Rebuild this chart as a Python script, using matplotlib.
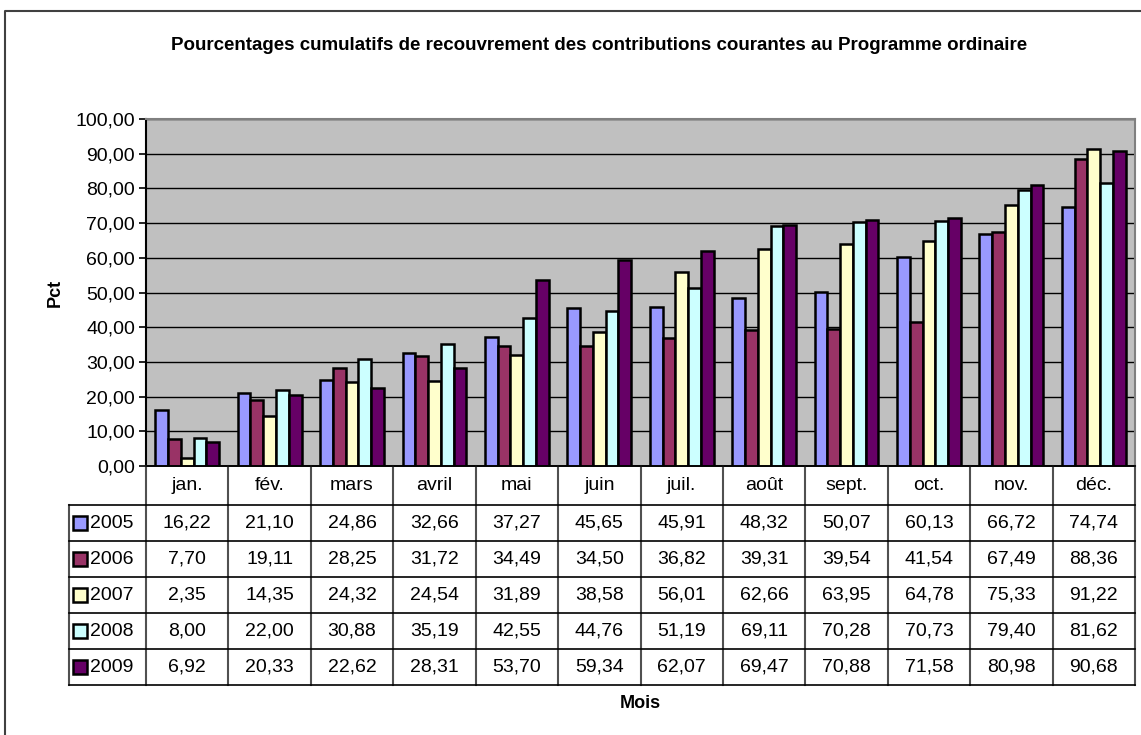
"""
Pourcentages cumulatifs de recouvrement - bar chart with data table (Excel style).
"""
import numpy as np
import matplotlib.pyplot as plt

plt.rcParams['font.family'] = ['Liberation Sans', 'DejaVu Sans']

months = ['jan.', 'fév.', 'mars', 'avril', 'mai', 'juin', 'juil.', 'août',
          'sept.', 'oct.', 'nov.', 'déc.']
years = ['2005', '2006', '2007', '2008', '2009']
v2005 = [16.22, 21.10, 24.86, 32.66, 37.27, 45.65, 45.91, 48.32, 50.07, 60.13, 66.72, 74.74]
v2006 = [7.70, 19.11, 28.25, 31.72, 34.49, 34.50, 36.82, 39.31, 39.54, 41.54, 67.49, 88.36]
v2007 = [2.35, 14.35, 24.32, 24.54, 31.89, 38.58, 56.01, 62.66, 63.95, 64.78, 75.33, 91.22]
v2008 = [8.00, 22.00, 30.88, 35.19, 42.55, 44.76, 51.19, 69.11, 70.28, 70.73, 79.40, 81.62]
v2009 = [6.92, 20.33, 22.62, 28.31, 53.70, 59.34, 62.07, 69.47, 70.88, 71.58, 80.98, 90.68]
series = [v2005, v2006, v2007, v2008, v2009]
colors = ['#9999FF', '#993366', '#FFFFCC', '#CCFFFF', '#660066']

W, H = 1141, 735
fig = plt.figure(figsize=(W / 100, H / 100), dpi=100)

# pixel layout of the plot area
px_l, px_r, px_t, px_b = 146, 1135, 119, 466
ax = fig.add_axes([px_l / W, 1 - px_b / H, (px_r - px_l) / W, (px_b - px_t) / H])
ax.set_facecolor('#C0C0C0')

x = np.arange(len(months))
bw = 0.155
for i, (vals, c) in enumerate(zip(series, colors)):
    ax.bar(x + (i - 2) * bw + 0.5, vals, bw, color=c, edgecolor='black',
           linewidth=1.8, zorder=3)

ax.set_xlim(0, 12)
ax.set_ylim(0, 100)
ax.set_yticks(np.arange(0, 101, 10))
ax.yaxis.set_major_formatter(plt.FuncFormatter(lambda v, p: ('%.2f' % v).replace('.', ',')))
ax.tick_params(axis='y', labelsize=14, length=5, width=1.2, direction='out', pad=3)
ax.set_xticks([])
ax.grid(axis='y', color='black', linewidth=1.0, zorder=1)
for s in ['top', 'right']:
    ax.spines[s].set_color('#808080')
    ax.spines[s].set_linewidth(1.5)
ax.spines['left'].set_linewidth(1.5)
ax.spines['bottom'].set_linewidth(1.2)

ax.set_ylabel('Pct', fontsize=13, fontweight='bold', labelpad=8)

# overlay in pixel coordinates for title, table and border
ov = fig.add_axes([0, 0, 1, 1], facecolor='none')
ov.set_xlim(0, W)
ov.set_ylim(H, 0)
ov.axis('off')

ov.text(599, 45, 'Pourcentages cumulatifs de recouvrement des contributions courantes au Programme ordinaire',
        ha='center', va='center', fontsize=13.5, fontweight='bold')

# figure border
ov.plot([5, 5, W + 5], [H - 1, 11, 11], color='#404040', lw=1.5)

# data table
cw = (px_r - px_l) / 12
tab_l = 69
head_b = 505
rh = 36
rows_b = head_b + rh * len(years)
lc = '#505050'
ov.plot([px_l, px_l], [px_b, rows_b], color=lc, lw=1.5)
ov.plot([tab_l, tab_l], [head_b, rows_b], color=lc, lw=1.5)
for j in range(1, 13):
    xx = px_l + j * cw
    ov.plot([xx, xx], [px_b, rows_b], color=lc, lw=1.5)
ov.plot([px_l, px_r], [px_b, px_b], color='black', lw=1.2)
for r in range(len(years) + 1):
    yy = head_b + r * rh
    ov.plot([tab_l, px_r], [yy, yy], color='black', lw=1.2)

for j, m in enumerate(months):
    ov.text(px_l + (j + 0.5) * cw, (px_b + head_b) / 2, m, ha='center', va='center', fontsize=14)

for r, (yr, vals, c) in enumerate(zip(years, series, colors)):
    yc = head_b + (r + 0.5) * rh
    ov.add_patch(plt.Rectangle((tab_l + 4, yc - 7), 14, 14, facecolor=c,
                               edgecolor='black', lw=1.8))
    ov.text(tab_l + 21, yc, yr, ha='left', va='center', fontsize=14)
    for j, v in enumerate(vals):
        ov.text(px_l + (j + 0.5) * cw, yc, ('%.2f' % v).replace('.', ','),
                ha='center', va='center', fontsize=14)

ov.text(640, 703, 'Mois', ha='center', va='center', fontsize=13, fontweight='bold')

fig.savefig('out.png', dpi=100)
